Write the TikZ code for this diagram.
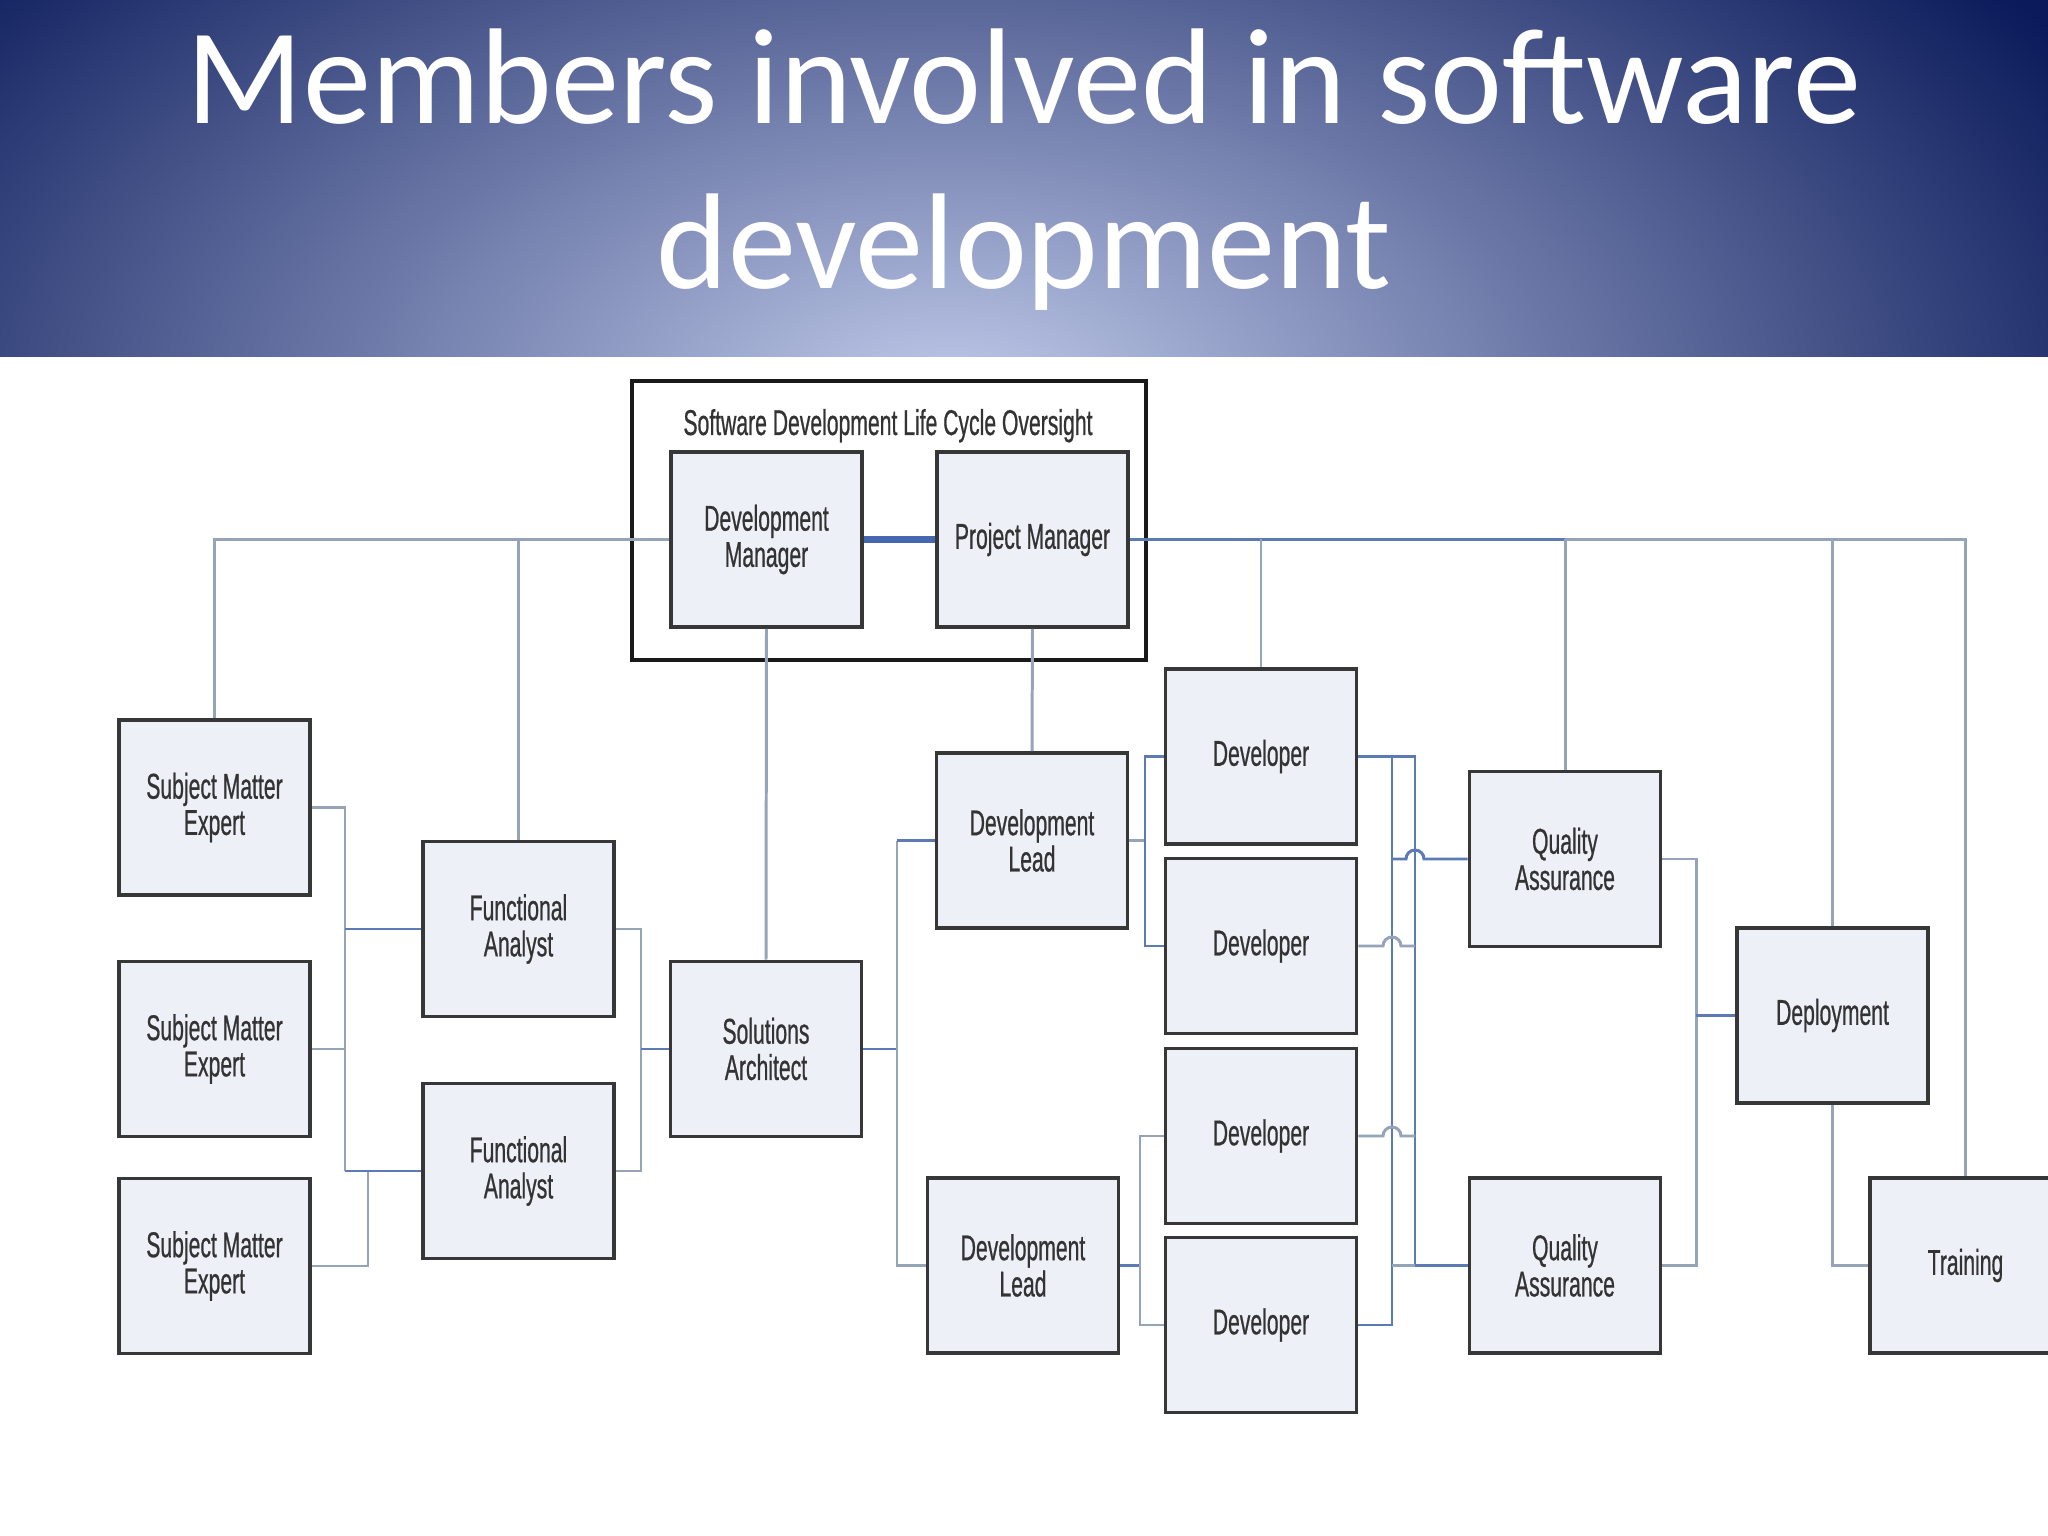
\documentclass[tikz,border=0pt]{standalone}
\usepackage{fontspec}
\newfontfamily\titlefont{Carlito}
\newfontfamily\boxfont[FakeStretch=0.59,FakeBold=0.6]{Liberation Sans}
\usetikzlibrary{calc}
\definecolor{bndark}{RGB}{10,26,90}
\definecolor{bnlight}{RGB}{192,202,234}
\definecolor{boxfill}{RGB}{238,240,248}
\definecolor{boxline}{RGB}{55,55,55}
\definecolor{wiregrey}{RGB}{150,164,186}
\definecolor{wireblue}{RGB}{92,122,180}
\definecolor{linkblue}{RGB}{70,102,176}

\begin{document}
\begin{tikzpicture}[
  role/.style={draw=boxline, line width=1.1pt, fill=boxfill, minimum width=1.91cm,
    minimum height=1.75cm, inner sep=0pt, align=center, text=black!80,
    font=\boxfont\fontsize{10.2}{10.3}\selectfont},
  wire/.style={draw=wiregrey, line width=0.85pt},
  wireb/.style={draw=wireblue, line width=0.85pt},
  hop/.style={start angle=180, end angle=0, radius=0.09}
]
\useasboundingbox (0,0) rectangle (20.48,-15.36);
\fill[white] (0,0) rectangle (20.48,-15.36);
\begin{scope}
\clip (0,0) rectangle (20.48,-3.57);
\fill[bndark] (0,0) rectangle (20.48,-3.57);
\shade[inner color=bnlight, outer color=bndark] (9.5,-4.0) ellipse (13 and 7);
\end{scope}
\node[font=\titlefont\fontsize{38.8}{47}\selectfont, text=white, align=center, inner sep=0pt]
  (title) at (10.24,-1.70) {Members involved in software\\development};

\node[draw=black!90, line width=1.4pt, minimum width=5.14cm, minimum height=2.79cm, inner sep=0pt]
  (sdlc) at (8.89,-5.205) {};
\node[font=\boxfont\fontsize{10.2}{10.3}\selectfont, text=black!80, anchor=base, inner sep=0pt]
  (sdlcname) at (8.88,-4.35) {Software Development Life Cycle Oversight};
\node[role] (dm) at (7.665,-5.395) {Development\\Manager};
\node[role] (pm) at (10.325,-5.395) {Project Manager};

\node[role] (sme1) at (2.145,-8.075) {Subject Matter\\Expert};
\node[role] (sme2) at (2.145,-10.49) {Subject Matter\\Expert};
\node[role] (sme3) at (2.145,-12.66) {Subject Matter\\Expert};
\node[role] (fa1) at (5.185,-9.29) {Functional\\Analyst};
\node[role] (fa2) at (5.185,-11.71) {Functional\\Analyst};
\node[role] (sa) at (7.66,-10.49) {Solutions\\Architect};
\node[role] (dl1) at (10.32,-8.405) {Development\\Lead};
\node[role] (dl2) at (10.23,-12.655) {Development\\Lead};
\node[role] (dev1) at (12.61,-7.565) {Developer};
\node[role] (dev2) at (12.61,-9.46) {Developer};
\node[role] (dev3) at (12.61,-11.36) {Developer};
\node[role] (dev4) at (12.61,-13.25) {Developer};
\node[role] (qa1) at (15.65,-8.59) {Quality\\Assurance};
\node[role] (qa2) at (15.65,-12.655) {Quality\\Assurance};
\node[role] (dep) at (18.325,-10.155) {Deployment};
\node[role] (train) at (19.655,-12.655) {Training};

\coordinate (smebus) at (3.45,0);
\coordinate (sme3bus) at (3.68,0);
\coordinate (fabus) at (6.41,0);
\coordinate (sabus) at (8.97,0);
\coordinate (lead1bus) at (11.45,0);
\coordinate (lead2bus) at (11.40,0);
\coordinate (devbusa) at (13.92,0);
\coordinate (devbusb) at (14.15,0);
\coordinate (qabus) at (16.96,0);

\draw[draw=linkblue, line width=2pt] (dm.east) -- (pm.west);
\draw[wire] (dm.west) -| (sme1.north);
\draw[wire] (fa1.north) -- (fa1.north |- dm.west);
\draw[wireb] (pm.east) -- (qa1.north |- pm.east);
\draw[wire] (qa1.north |- pm.east) -| (train.north);
\draw[wire] (dev1.north) -- (dev1.north |- pm.east);
\draw[wire] (qa1.north) -- (qa1.north |- pm.east);
\draw[wire] (dep.north) -- (dep.north |- pm.east);
\draw[wire] (dm.south) -- (sa.north);
\draw[wire] (pm.south) -- (dl1.north);

\draw[wire] (sme1.east) -- (smebus |- sme1.east) -- (smebus |- fa2.west);
\draw[wire] (sme2.east) -- (smebus |- sme2.east);
\draw[wire] (sme3.east) -- (sme3bus |- sme3.east) -- (sme3bus |- fa2.west);
\draw[wireb] (smebus |- fa1.west) -- (fa1.west);
\draw[wireb] (smebus |- fa2.west) -- (fa2.west);

\draw[wire] (fa1.east) -- (fabus |- fa1.east) -- (fabus |- fa2.east) -- (fa2.east);
\draw[wireb] (fabus |- sa.west) -- (sa.west);
\draw[wireb] (sa.east) -- (sabus |- sa.east);
\draw[wire] (sabus |- dl1.west) -- (sabus |- dl2.west) -- (dl2.west);
\draw[wireb] (sabus |- dl1.west) -- (dl1.west);

\draw[wire] (dl1.east) -- (lead1bus |- dl1.east);
\draw[wireb] (dev1.west) -- (lead1bus |- dev1.west) -- (lead1bus |- dev2.west) -- (dev2.west);
\draw[wireb] (dl2.east) -- (lead2bus |- dl2.east);
\draw[wire] (dev3.west) -- (lead2bus |- dev3.west) -- (lead2bus |- dev4.west) -- (dev4.west);

\draw[wireb] (dev1.east) -- (devbusb |- dev1.east) -- (devbusb |- qa2.west);
\draw[wireb] (devbusa |- dev1.east) -- (devbusa |- dev4.east) -- (dev4.east);
\draw[wire] (dev2.east) -- ($(devbusa |- dev2.east)+(-0.09,0)$) arc[hop] -- (devbusb |- dev2.east);
\draw[wire] (dev3.east) -- ($(devbusa |- dev3.east)+(-0.09,0)$) arc[hop] -- (devbusb |- dev3.east);
\draw[wireb] (devbusa |- qa1.west) -- ($(devbusb |- qa1.west)+(-0.09,0)$) arc[hop] -- (qa1.west);
\draw[wire] (devbusa |- qa2.west) -- (devbusb |- qa2.west);
\draw[wireb] (devbusb |- qa2.west) -- (qa2.west);

\draw[wire] (qa1.east) -- (qabus |- qa1.east) -- (qabus |- qa2.east) -- (qa2.east);
\draw[wireb] (qabus |- dep.west) -- (dep.west);
\draw[wire] (dep.south) |- (train.west);
\end{tikzpicture}
\end{document}
